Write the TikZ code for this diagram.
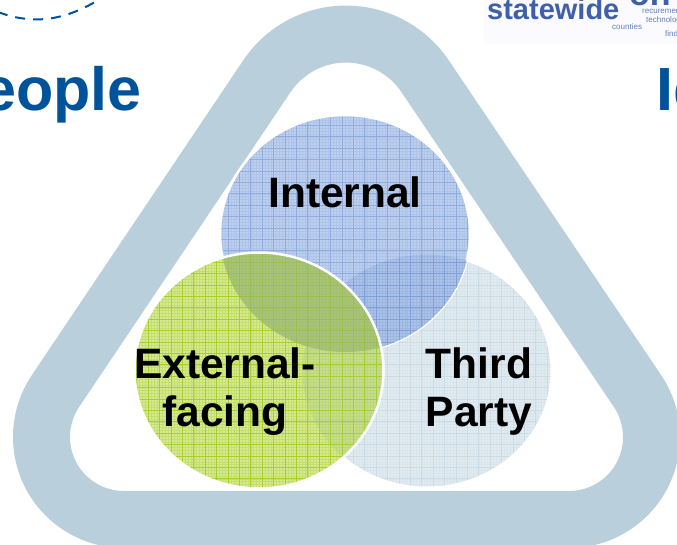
\documentclass[tikz,border=0pt]{standalone}
\usepackage{xcolor}
\usepackage{fontspec}
\setmainfont{Liberation Sans}
\definecolor{ringblue}{HTML}{B9CFDC}
\definecolor{titleblue}{HTML}{00529B}
\definecolor{logoblue}{HTML}{3F5FA8}
\definecolor{internalfill}{HTML}{BED0EE}
\definecolor{internalline}{HTML}{8FACDF}
\definecolor{externalfill}{HTML}{D6E993}
\definecolor{externalline}{HTML}{A8CE2A}
\definecolor{thirdfill}{HTML}{E2EBF0}
\definecolor{thirdline}{HTML}{CBDBE5}
\definecolor{bluethird}{HTML}{ADC3E7}
\definecolor{bluethirdline}{HTML}{7F9FD8}
\definecolor{greenblue}{HTML}{A9C37E}
\definecolor{greenblueline}{HTML}{9ABE50}
\definecolor{greenthird}{HTML}{C8DD94}
\definecolor{greenthirdline}{HTML}{A6CC3C}
\tikzset{
venntext/.style={font=\fontsize{42.5}{48}\selectfont\bfseries, align=center, text=black},
titletext/.style={font=\fontsize{61}{61}\selectfont\bfseries, text=titleblue},
logosmall/.style={font=\fontsize{8}{8}\selectfont, text=logoblue!80, anchor=base west},
}
\def\internalshape{(345,233.5) ellipse (125 and 118.5)}
\def\externalshape{(259,370.5) ellipse (124.5 and 118)}
\def\thirdshape{(427,371) ellipse (124.5 and 116.5)}
\newcommand{\vennpatch}[2]{% fill, line; clipped beforehand
\fill[#1] (0,0) rectangle (677,544);
\draw[#2, line width=0.4pt, opacity=0.35, step=2.85pt] (0,0) grid (677,544);
\draw[#2, line width=0.9pt, step=11.4pt] (0,0) grid (677,544);
}
\begin{document}
\begin{tikzpicture}[x=1pt,y=-1pt]
\useasboundingbox (0,0) rectangle (677,544);
\begin{scope}
\clip (0,0) rectangle (677,544);
% ring
\draw[ringblue, line width=57pt, fill=white, line join=round]
(55.5,391) -- (266.9,76.2) arc[start angle=213.9, end angle=326.1, radius=95.3]
-- (637.5,391) arc[start angle=326.1, end angle=450, radius=82.5]
-- (124,519.5) arc[start angle=90, end angle=213.9, radius=82.5] -- cycle;
% third party
\begin{scope}
\clip \thirdshape;
\vennpatch{thirdfill}{thirdline}
\end{scope}
\draw[white, line width=2pt] \thirdshape;
% internal
\begin{scope}
\clip \internalshape;
\vennpatch{internalfill}{internalline}
\end{scope}
\draw[white, line width=2.5pt] \internalshape;
\begin{scope}
\clip \internalshape;
\clip \thirdshape;
\vennpatch{bluethird}{bluethirdline}
\end{scope}
% external
\begin{scope}
\clip \externalshape;
\vennpatch{externalfill}{externalline}
\end{scope}
\begin{scope}
\clip \externalshape;
\clip \thirdshape;
\vennpatch{greenthird}{greenthirdline}
\end{scope}
\begin{scope}
\clip \externalshape;
\clip \internalshape;
\vennpatch{greenblue}{greenblueline}
\end{scope}
\draw[white, line width=2.5pt] \externalshape;
% titles
\node[titletext, anchor=base east, inner sep=0pt] (people) at (142,110) {eople};
\node[titletext, anchor=base west, inner sep=0pt] (id) at (656,110) {Id};
% dashes
\coordinate (dashl) at (-2,12);
\coordinate (dashr) at (95,2);
\draw[titleblue, line width=2pt, dash pattern=on 10pt off 8pt] (dashl) .. controls (30,24) and (60,22) .. (dashr);
% logo
\fill[blue!2] (484,0) rectangle (677,44);
\node[font=\fontsize{29}{29}\selectfont\bfseries, text=logoblue, anchor=base west, inner sep=0pt] (statewide) at (487,19.5) {statewide};
\node[font=\fontsize{34}{34}\selectfont\bfseries, text=logoblue, anchor=base west, inner sep=0pt] (big) at (629,5) {on};
\node[logosmall, inner sep=0pt] (word1) at (642,13) {recurement};
\node[logosmall, inner sep=0pt] (word2) at (646,22) {technology};
\node[logosmall, inner sep=0pt] (word3) at (612,29) {counties};
\node[logosmall, inner sep=0pt] (word4) at (665,36) {find};
\end{scope}
% labels
\node[venntext] (internal) at (345,192) {Internal};
\node[venntext] (external) at (225,392) {External-\\facing};
\node[venntext] (third) at (479,392) {Third\\Party};
\end{tikzpicture}
\end{document}
